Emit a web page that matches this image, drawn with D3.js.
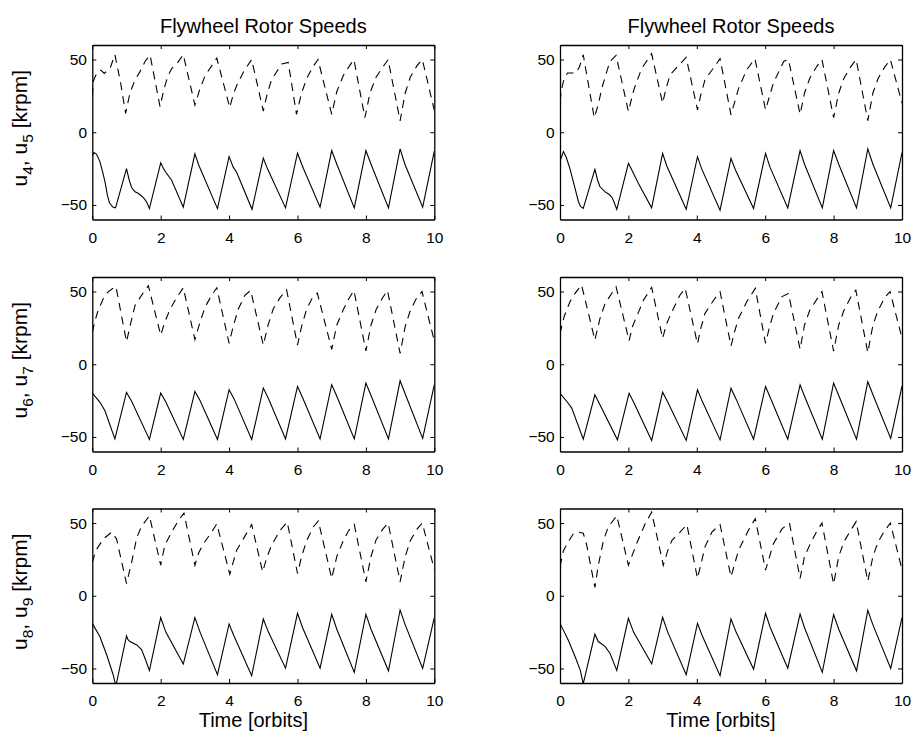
<!DOCTYPE html>
<html><head><meta charset="utf-8">
<script src="https://cdn.jsdelivr.net/npm/d3@7"></script>
<style>body{margin:0;background:#fff} svg{display:block}</style>
</head><body>
<svg id="c" width="916" height="740"></svg>
<script>
// ---------- data ----------
const xTicks = [0, 2, 4, 6, 8, 10];
const yTicks = [-50, 0, 50];
const xDomain = [0, 10];
const yDomain = [-60, 60];
const titleText = "Flywheel Rotor Speeds";
const xLabelText = "Time [orbits]";
const rowSubs = [["4", "5"], ["6", "7"], ["8", "9"]];

// top-left
const s1 = [[0,-16],[0.05,-14],[0.12,-15],[0.22,-20],[0.3,-27],[0.37,-34],[0.44,-43],[0.5,-48.5],[0.6,-51.5],[0.68,-52],
 [1.0,-25],[1.08,-33],[1.15,-38],[1.25,-41],[1.34,-42],[1.45,-44],[1.53,-46],[1.6,-48.5],[1.67,-52.5],
 [2.0,-21],[2.08,-25],[2.15,-27.5],[2.32,-33],[2.66,-51.5],
 [3.0,-14.8],[3.12,-23],[3.66,-52.5],
 [4.0,-16.7],[4.12,-24],[4.22,-27.5],[4.67,-53],
 [5.0,-17.8],[5.12,-25],[5.65,-52],
 [6.0,-14.4],[6.17,-24.7],[6.66,-51.6],
 [7.0,-12.6],[7.15,-22],[7.66,-52],
 [8.0,-12.6],[8.15,-22],[8.66,-52],
 [9.0,-11.4],[9.14,-22],[9.66,-51.5],
 [10,-13]];
const d1 = [[0,25],[0.03,35],[0.08,38],[0.15,41.5],[0.25,42.7],[0.35,40.4],[0.45,42.7],[0.53,44.5],[0.66,53.4],
 [0.82,35],[0.975,13],
 [1.1,27],[1.25,36],[1.39,41.5],[1.55,49],[1.69,53],
 [1.98,17.6],
 [2.1,30],[2.2,38],[2.32,43.8],[2.47,47],[2.66,53.4],
 [3.0,18.7],
 [3.15,30],[3.3,39],[3.5,46],[3.64,51],
 [4.02,17],
 [4.12,26],[4.22,32],[4.42,41.5],[4.66,50],
 [5.0,14.6],
 [5.12,27],[5.24,36],[5.54,47],[5.73,48],
 [5.97,12.3],
 [6.12,27],[6.27,37],[6.45,45],[6.6,50],
 [7.0,12.3],
 [7.15,28],[7.34,39],[7.5,45],[7.65,50],
 [7.97,10],
 [8.12,27],[8.3,38],[8.5,45],[8.65,50],
 [9.0,7.8],
 [9.15,27],[9.3,38],[9.5,46],[9.65,50],
 [10,15]];

// top-right
const s2 = [[0,-20],[0.1,-13.3],[0.18,-17],[0.29,-25],[0.44,-38.6],[0.54,-47.8],[0.6,-51],[0.68,-52.4],
 [1.02,-25.5],[1.1,-33],[1.17,-37.5],[1.32,-41],[1.42,-42.5],[1.51,-44.4],[1.58,-48],[1.66,-53],
 [2.0,-21.4],[2.1,-26],[2.29,-35],[2.68,-52],
 [3.0,-14.5],[3.12,-23],[3.69,-53],
 [4.02,-16.8],[4.14,-25],[4.68,-53.6],
 [5.0,-18],[5.13,-26],[5.66,-52.4],
 [6.01,-14.5],[6.14,-24],[6.66,-52],
 [7.02,-12.6],[7.15,-22],[7.67,-52],
 [8.0,-12.6],[8.15,-22],[8.67,-52],
 [9.0,-11.4],[9.15,-22],[9.67,-52],
 [10,-14]];
const d2 = [[0,21],[0.05,30],[0.12,37],[0.22,40.7],[0.34,40.7],[0.47,40.7],[0.57,45],[0.68,53.3],
 [1.0,10],
 [1.12,19],[1.22,30],[1.32,38],[1.46,48.7],[1.64,52.9],
 [2.0,14.3],
 [2.17,30],[2.39,44],[2.68,54],
 [3.0,20],
 [3.1,30],[3.22,39.5],[3.51,47],[3.69,51.5],
 [4.02,15.4],
 [4.12,26],[4.24,36],[4.59,47.6],[4.68,50.6],
 [5.0,12],
 [5.22,30],[5.46,43],[5.7,50.6],
 [6.01,15.4],
 [6.24,33.8],[6.54,48.7],[6.68,50],
 [7.02,12.4],
 [7.15,27],[7.3,37],[7.5,45],[7.66,50],
 [8.0,10],
 [8.15,27],[8.3,37],[8.5,45],[8.66,50],
 [9.0,8],
 [9.15,27],[9.3,37],[9.5,45],[9.66,50],
 [10,20]];

// middle-left
const s3 = [[0,-19.8],[0.22,-26],[0.37,-32],[0.66,-51.3],
 [1.0,-19.4],[1.15,-25.5],[1.67,-51.7],
 [2.0,-19.8],[2.15,-26],[2.66,-51.7],
 [3.0,-18.7],[3.15,-25],[3.66,-51.7],
 [4.0,-17.5],[4.15,-24],[4.66,-51.7],
 [5.0,-16.4],[5.15,-23.5],[5.65,-51.3],
 [6.0,-15.3],[6.15,-23],[6.66,-51.3],
 [7.0,-14.1],[7.15,-22],[7.66,-51.3],
 [8.0,-13],[8.15,-21.5],[8.66,-51.3],
 [9.0,-11.4],[9.15,-20.5],[9.66,-51],
 [10,-14]];
const d3s = [[0,22],[0.08,30],[0.17,37],[0.32,45],[0.47,50],[0.69,53.5],
 [1.0,15.5],
 [1.12,28],[1.25,40.5],[1.44,47.4],[1.64,54],
 [2.0,20],
 [2.12,29],[2.27,37.6],[2.47,46],[2.66,52.6],
 [3.0,17],
 [3.15,29],[3.3,39.4],[3.48,47],[3.64,52.6],
 [4.0,14.4],
 [4.12,26],[4.27,38],[4.46,47.4],[4.63,50.8],
 [5.0,13.2],
 [5.14,27],[5.29,38],[5.49,45.8],[5.68,51.3],
 [6.0,13.2],
 [6.12,26],[6.27,38],[6.42,45],[6.58,49],
 [7.0,10.3],
 [7.15,27],[7.34,37.6],[7.5,45],[7.65,50.8],
 [8.0,9.1],
 [8.15,27],[8.3,37.6],[8.47,45],[8.63,50.8],
 [9.0,7.5],
 [9.15,26],[9.3,37],[9.47,45],[9.64,50],
 [10,16]];

// middle-right
const s4 = [[0,-20],[0.2,-25.6],[0.34,-30],[0.68,-51.5],
 [1.02,-21],[1.15,-27],[1.68,-52],
 [2.02,-20],[2.15,-26],[2.68,-52.4],
 [3.0,-19.2],[3.15,-26],[3.69,-52.4],
 [4.02,-17.6],[4.15,-25],[4.68,-52],
 [5.0,-16.5],[5.15,-24],[5.66,-51.5],
 [6.01,-15.3],[6.15,-23],[6.66,-51.5],
 [7.02,-14.2],[7.15,-22],[7.67,-51.5],
 [8.0,-13],[8.15,-21.5],[8.67,-51.5],
 [9.0,-12],[9.15,-21],[9.67,-51],
 [10,-15]];
const d4 = [[0,21],[0.12,32.7],[0.29,43],[0.44,48.7],[0.63,54.5],
 [1.02,16.7],
 [1.17,31.6],[1.32,41.9],[1.51,48.7],[1.64,53.3],
 [2.02,16.2],
 [2.12,26],[2.24,32.7],[2.44,44],[2.68,52.9],
 [3.0,17.8],
 [3.12,28],[3.27,36],[3.51,47.6],[3.66,52.2],
 [4.02,14],
 [4.12,25],[4.24,35],[4.49,44],[4.68,49.9],
 [5.0,12.6],
 [5.1,22],[5.22,31.6],[5.46,43],[5.71,52.2],
 [6.01,14.4],
 [6.12,25],[6.24,35],[6.49,46.5],[6.68,48.7],
 [7.02,10.3],
 [7.15,27],[7.3,37],[7.56,46.5],[7.66,50],
 [8.0,9],
 [8.15,27],[8.3,37],[8.5,46],[8.65,51],
 [9.0,8],
 [9.15,27],[9.3,37],[9.5,46],[9.65,50],
 [10,18]];

// bottom-left
const s5 = [[0,-19],[0.22,-28],[0.42,-40.6],[0.61,-54.3],[0.69,-62],
 [1.0,-27.6],[1.04,-30],[1.1,-31.5],[1.3,-33.8],[1.44,-37],[1.54,-43],[1.67,-51.4],
 [2.0,-15],[2.15,-25],[2.66,-47],
 [3.0,-15],[3.15,-25],[3.66,-54.3],
 [4.0,-19.4],[4.15,-28],[4.66,-55],
 [5.0,-16],[5.15,-25],[5.65,-49.8],
 [6.0,-12.1],[6.15,-22],[6.66,-49.8],
 [7.0,-12.8],[7.15,-23],[7.66,-52.7],
 [8.0,-12.8],[8.15,-23],[8.66,-51.6],
 [9.0,-9.8],[9.15,-20],[9.66,-50],
 [10,-15]];
const d5 = [[0,23],[0.1,31],[0.32,39],[0.57,43.8],
 [0.71,39],[1.0,8.4],
 [1.15,23],[1.3,40],[1.44,47.7],[1.67,55],
 [2.0,21],
 [2.12,34.7],[2.32,43.8],[2.52,51.8],[2.68,56.8],
 [3.0,21],
 [3.12,30],[3.25,35.8],[3.49,43.8],[3.64,49.5],
 [4.02,14.8],
 [4.22,31.3],[4.42,39.3],[4.66,49],
 [4.98,16.4],
 [5.1,26],[5.24,34.7],[5.49,45],[5.7,50.7],
 [6.0,15.3],
 [6.12,27],[6.27,38],[6.46,47.3],[6.61,51.4],
 [7.0,11.9],
 [7.15,27],[7.34,38],[7.5,45],[7.66,49],
 [8.0,9.6],
 [8.15,27],[8.3,38.6],[8.5,46],[8.65,50],
 [9.0,9.6],
 [9.15,27],[9.3,38],[9.5,46],[9.65,50],
 [10,18]];

// bottom-right
const s6 = [[0,-19],[0.24,-30.4],[0.44,-41.8],[0.59,-51],[0.68,-60.5],
 [1.02,-26.5],[1.12,-31.5],[1.32,-35],[1.46,-39.5],[1.66,-51.4],
 [2.0,-15.5],[2.15,-25],[2.68,-46.8],
 [3.0,-14.8],[3.15,-25],[3.69,-54.3],
 [4.02,-19],[4.15,-27],[4.68,-55],
 [5.0,-16],[5.15,-25],[5.66,-50.5],
 [6.01,-12.1],[6.15,-22],[6.66,-49.8],
 [7.02,-12.6],[7.15,-22],[7.67,-52.7],
 [8.0,-13],[8.15,-23],[8.67,-51.6],
 [9.0,-10],[9.15,-20],[9.67,-50],
 [10,-15]];
const d6 = [[0,20],[0.1,31],[0.24,37],[0.39,42.7],[0.54,43.8],[0.68,43],
 [0.78,35],[1.02,5.7],
 [1.12,21],[1.27,38],[1.41,47.3],[1.66,55],
 [2.0,21],
 [2.24,35.8],[2.49,49.5],[2.68,57.5],
 [3.02,21],
 [3.15,31],[3.27,38],[3.51,43.8],[3.71,49],
 [4.02,11.9],
 [4.24,33.6],[4.44,43.8],[4.68,49],
 [5.0,13],
 [5.22,31.3],[5.51,45],[5.71,53],
 [6.01,17.6],
 [6.24,35.8],[6.49,46],[6.71,50],
 [7.02,11.9],
 [7.15,27],[7.32,35.8],[7.5,44],[7.66,50],
 [8.0,8],
 [8.15,27],[8.3,37],[8.5,45],[8.66,51],
 [9.0,10],
 [9.15,27],[9.3,37],[9.5,45],[9.66,50],
 [10,18]];

const panels = [
  {row:0, col:0, solid:s1, dashed:d1},
  {row:0, col:1, solid:s2, dashed:d2},
  {row:1, col:0, solid:s3, dashed:d3s},
  {row:1, col:1, solid:s4, dashed:d4},
  {row:2, col:0, solid:s5, dashed:d5},
  {row:2, col:1, solid:s6, dashed:d6}
];

// ---------- layout ----------
const colX = [92.3, 560];
const rowY = [45, 277, 508.5];
const W = 342, H = 174.5;
const FONT = "'Liberation Sans', Arial, Helvetica, sans-serif";

const svg = d3.select("#c");
svg.append("rect").attr("width",916).attr("height",740).attr("fill","#fff");

const x = d3.scaleLinear().domain(xDomain).range([0, W]);
const y = d3.scaleLinear().domain(yDomain).range([H, 0]);
const line = d3.line().x(d => x(d[0])).y(d => y(d[1]));

panels.forEach((p, i) => {
  const g = svg.append("g").attr("transform", `translate(${colX[p.col]},${rowY[p.row]})`);
  const cid = "clip" + i;
  g.append("clipPath").attr("id", cid).append("rect").attr("width", W).attr("height", H);

  const lines = g.append("g").attr("clip-path", `url(#${cid})`);
  lines.append("path").datum(p.solid).attr("d", line)
    .attr("fill","none").attr("stroke","#000").attr("stroke-width",1.1);
  lines.append("path").datum(p.dashed).attr("d", line)
    .attr("fill","none").attr("stroke","#000").attr("stroke-width",1.1)
    .attr("stroke-dasharray","8,6");

  const bottom = g.append("g").attr("transform", `translate(0,${H})`)
    .call(d3.axisBottom(x).tickValues(xTicks).tickSizeInner(-4).tickSizeOuter(0).tickPadding(12.2));
  const left = g.append("g")
    .call(d3.axisLeft(y).tickValues(yTicks).tickSizeInner(-4).tickSizeOuter(0).tickPadding(5.3)
      .tickFormat(d => d < 0 ? "\u2212" + Math.abs(d) : d));
  const top = g.append("g")
    .call(d3.axisTop(x).tickValues(xTicks).tickSizeInner(-4).tickSizeOuter(0).tickFormat(""));
  const right = g.append("g").attr("transform", `translate(${W},0)`)
    .call(d3.axisRight(y).tickValues(yTicks).tickSizeInner(-4).tickSizeOuter(0).tickFormat(""));

  [bottom, left, top, right].forEach(a => {
    a.selectAll("path.domain").attr("stroke","#000").attr("stroke-width",1.3);
    a.selectAll(".tick line").attr("stroke","#000").attr("stroke-width",1);
    a.selectAll("text").attr("fill","#000").style("font-family", FONT).style("font-size","15.5px");
  });

  if (p.row === 0) {
    g.append("text").attr("x", W/2).attr("y", -12).attr("text-anchor","middle")
      .style("font-family", FONT).style("font-size","20px").attr("fill","#000").text(titleText);
  }
  if (p.row === 2) {
    g.append("text").attr("x", W/2 - 10).attr("y", H + 44).attr("text-anchor","middle")
      .style("font-family", FONT).style("font-size","20px").attr("fill","#000").text(xLabelText);
  }
  if (p.col === 0) {
    const subs = rowSubs[p.row];
    const t = svg.append("text")
      .attr("transform", `translate(27,${rowY[p.row] + H/2 - 4}) rotate(-90)`)
      .attr("text-anchor","middle")
      .style("font-family", FONT).style("font-size","21px").attr("fill","#000");
    t.append("tspan").text("u");
    t.append("tspan").attr("dy", 6).style("font-size","15.5px").text(subs[0]);
    t.append("tspan").attr("dy", -6).text(", u");
    t.append("tspan").attr("dy", 6).style("font-size","15.5px").text(subs[1]);
    t.append("tspan").attr("dy", -6).text(" [krpm]");
  }
});
</script>
</body></html>
